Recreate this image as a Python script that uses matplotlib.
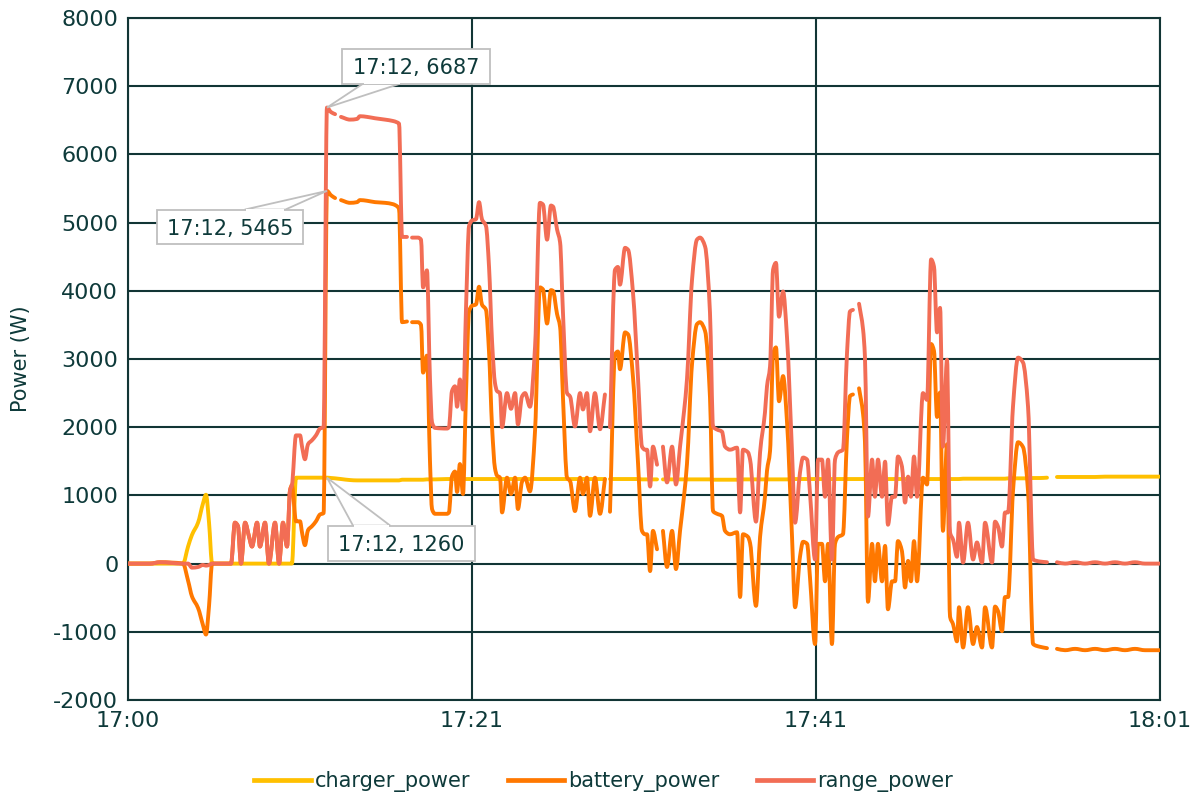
import numpy as np
import matplotlib
matplotlib.use("Agg")
import matplotlib.pyplot as plt
from matplotlib.path import Path
from matplotlib.patches import PathPatch, Polygon, Rectangle
from matplotlib.lines import Line2D

nan = float("nan")

# minutes after the axis start (17:00)
minutes = [
    0.00, 1.30, 1.89, 3.25, 3.55, 3.78, 4.14, 4.43, 4.61, 4.79, 4.97, 5.91, 6.09, 6.32, 6.50, 6.68,
    6.92, 7.15, 7.33, 7.63, 7.80, 8.10, 8.33, 8.69, 8.93, 9.16, 9.40, 9.58, 9.69, 9.93, 10.17, 10.29,
    10.46, 10.64, 10.88, 11.11, 11.35, 11.56, 11.76, 12.00, 12.24, 12.41, 12.59, 13.12, 13.54, 13.71,
    14.13, 14.60, 15.19, 15.66, 15.90, 16.02, 16.20, 16.49, 16.64, 16.79, 17.14, 17.32, 17.44, 17.67,
    17.85, 17.97, 18.15, 18.86, 18.97, 19.15, 19.33, 19.45, 19.62, 19.80, 19.98, 20.16, 20.33, 20.57,
    20.75, 20.92, 21.16, 21.34, 21.52, 21.69, 21.81, 21.99, 22.11, 22.40, 22.64, 22.88, 23.05, 23.29,
    23.47, 23.76, 24.06, 24.35, 24.53, 24.77, 25.00, 25.12, 25.36, 25.54, 25.71, 25.95, 26.13, 26.42,
    26.72, 26.89, 27.13, 27.31, 27.60, 27.90, 28.19, 28.34, 28.49, 28.79, 28.96, 29.08, 29.38, 29.56,
    29.85, 30.15, 30.38, 30.56, 30.68, 30.86, 31.03, 31.27, 31.45, 31.62, 31.86, 32.16, 32.39, 32.63,
    32.87, 33.04, 33.34, 33.63, 33.81, 34.11, 34.40, 34.58, 34.82, 35.11, 35.29, 35.58, 36.00, 36.18,
    36.35, 36.65, 36.77, 37.12, 37.36, 37.65, 37.77, 37.95, 38.13, 38.30, 38.48, 38.72, 38.95, 39.25,
    39.43, 39.72, 39.90, 40.14, 40.31, 40.61, 40.79, 41.02, 41.20, 41.38, 41.61, 41.79, 41.97, 42.26,
    42.50, 42.68, 42.85, 43.03, 43.21, 43.45, 43.56, 43.74, 43.98, 44.15, 44.33, 44.57, 44.75, 44.92,
    45.16, 45.34, 45.51, 45.75, 45.93, 46.11, 46.28, 46.46, 46.64, 46.99, 47.23, 47.47, 47.64, 47.82,
    48.00, 48.17, 48.41, 48.59, 48.77, 49.00, 49.12, 49.36, 49.65, 49.95, 50.18, 50.48, 50.66, 51.07,
    51.25, 51.43, 51.66, 51.84, 52.02, 52.31, 52.61, 52.90, 53.20, 53.50, 53.91, 54.32, 54.62, 54.91,
    55.39, 55.98, 56.57, 57.16, 57.75, 58.34, 58.93, 59.52, 60.11, 61.00,
]

charger_power = [
    0, 0, 0, 0, 250, 420, 600, 880, 1010, 600, 0, 0, 0, 0, 0, 0,
    0, 0, 0, 0, 0, 0, 0, 0, 0, 0, 0, 0, 0, 1260, 1260, 1260,
    1260, 1260, 1260, 1260, 1260, 1260, 1260, 1255, 1250, 1245, 1240, 1225, 1220, 1220,
    1220, 1220, 1220, 1220, 1220, 1220, 1230, 1230, 1230, 1230, 1230, 1230, 1230, 1235,
    1235, 1235, 1235, 1240, 1240, 1240, 1240, 1240, 1240, 1240, 1240, 1240, 1240, 1240,
    1240, 1240, 1240, 1240, 1240, 1240, 1240, 1240, 1240, 1240, 1240, 1240, 1240, 1240,
    1240, 1240, 1240, 1240, 1240, 1240, 1240, 1240, 1240, 1240, 1240, 1240, 1240, 1240,
    1240, 1240, 1240, 1240, 1240, 1240, 1240, nan, 1240, 1240, 1240, 1240, 1240, 1240,
    1240, 1240, 1235, 1235, 1235, 1235, 1235, 1235, nan, 1235, 1235, 1235, 1235, 1235,
    1235, 1235, 1235, 1235, 1235, 1235, 1235, 1230, 1230, 1230, 1230, 1230, 1230, 1230,
    1235, 1235, 1235, 1235, 1235, 1235, 1235, 1235, 1235, 1235, 1235, 1235, 1235, 1240,
    1240, 1240, 1240, 1240, 1240, 1240, 1240, 1240, 1240, 1240, 1240, 1240, 1240, 1240,
    1240, 1240, 1240, 1240, 1240, 1240, 1240, 1240, 1240, 1240, 1240, 1240, 1240, 1240,
    1240, 1240, 1240, 1240, 1240, 1240, 1240, 1240, 1240, 1240, 1240, 1240, 1240, 1240,
    1240, 1240, 1240, 1240, 1240, 1240, 1240, 1245, 1245, 1245, 1245, 1245, 1245, 1245,
    1245, 1245, 1245, 1245, 1250, 1250, 1250, 1250, 1250, 1255, 1255, 1260, nan, 1270,
    1270, 1270, 1270, 1270, 1275, 1275, 1275, 1275, 1275, 1275,
]

battery_power = [
    0, 0, 20, 0, -250, -480, -650, -900, -1040, -620, 0, 0, 0, 600, 550, 0,
    600, 400, 250, 600, 250, 600, 0, 600, 0, 600, 250, 1080, 1150, 620, 620, 450,
    270, 490, 550, 620, 720, 740, 5465, 5400, 5360, nan, 5330, 5290, 5300, 5330,
    5320, 5300, 5290, 5270, 5240, 5200, 3540, 3550, nan, 3540, 3540, 3500, 2800, 3050,
    1500, 800, 730, 730, 750, 1280, 1350, 1050, 1460, 1020, 2500, 3700, 3780, 3800,
    4060, 3800, 3720, 3100, 2000, 1400, 1290, 1260, 750, 1260, 1020, 1260, 800, 1200,
    1260, 1060, 1950, 4050, 4020, 3520, 4010, 4000, 3660, 3470, 2440, 1260, 1210, 770,
    1260, 1020, 1260, 700, 1260, 730, 1240, nan, 760, 3070, 3110, 2850, 3390, 3360,
    2730, 1460, 480, 430, 430, -110, 480, 210, nan, 480, -50, 480, -80, 480,
    1000, 1460, 2930, 3510, 3540, 3410, 2440, 770, 730, 700, 480, 430, 460, -490,
    430, 390, 300, -620, 390, 980, 1360, 1650, 3070, 3170, 2380, 2750, 2090, 390,
    -640, 100, 320, 290, -200, -1180, 290, 290, -260, 290, -1180, 290, 390, 430,
    1850, 2460, 2480, nan, 2570, 2190, 1790, -560, 290, -260, 290, -260, 260, -670,
    -260, -260, 330, 180, -350, 40, -260, 330, -260, 1260, 1160, 3220, 3120, 2150,
    2510, 480, 1750, -780, -890, -1140, -640, -1230, -640, -1180, -930, -1230, -640, -1230,
    -630, -700, -990, -490, -490, 1060, 1780, 1710, 1060, -1180, -1220, -1240, nan, -1250,
    -1270, -1250, -1270, -1250, -1270, -1250, -1270, -1250, -1270, -1270,
]

range_power = [
    0, 0, 20, 0, 0, -60, -50, -20, -30, -20, 0, 0, 0, 600, 550, 0,
    600, 400, 250, 600, 250, 600, 0, 600, 0, 600, 250, 1080, 1150, 1880, 1880, 1710,
    1530, 1750, 1810, 1880, 1980, 2000, 6687, 6620, 6590, nan, 6550, 6510, 6520, 6560,
    6550, 6530, 6510, 6490, 6470, 6450, 4790, 4790, nan, 4780, 4780, 4750, 4050, 4300,
    2700, 2070, 1990, 1980, 2000, 2530, 2600, 2300, 2700, 2260, 3750, 4950, 5030, 5050,
    5300, 5050, 4950, 4350, 3250, 2650, 2530, 2500, 2000, 2500, 2270, 2500, 2040, 2450,
    2500, 2300, 3180, 5290, 5265, 4750, 5250, 5235, 4900, 4710, 3680, 2500, 2450, 2010,
    2500, 2260, 2500, 1940, 2500, 1970, 2480, nan, 2000, 4310, 4350, 4090, 4630, 4600,
    3970, 2700, 1715, 1670, 1670, 1130, 1715, 1450, nan, 1715, 1190, 1715, 1160, 1715,
    2240, 2700, 4165, 4750, 4780, 4650, 3680, 2010, 1965, 1935, 1715, 1670, 1700, 750,
    1670, 1630, 1525, 615, 1630, 2215, 2600, 2890, 4310, 4410, 3620, 3990, 3330, 1630,
    600, 1335, 1555, 1525, 1040, 60, 1525, 1525, 980, 1525, 60, 1525, 1630, 1670,
    3090, 3700, 3720, nan, 3810, 3430, 3030, 690, 1525, 980, 1525, 980, 1495, 570,
    980, 980, 1570, 1420, 895, 1275, 980, 1570, 980, 2500, 2400, 4460, 4355, 3390,
    3750, 1715, 2990, 455, 350, 100, 600, 15, 600, 60, 310, 15, 600, 15,
    615, 540, 250, 750, 750, 2300, 3020, 2950, 2300, 60, 30, 20, nan, 20,
    0, 20, 0, 20, 0, 20, 0, 20, 0, 0,
]

x_tick_pos = [0, 61 / 3, 122 / 3, 61]
x_tick_labels = ["17:00", "17:21", "17:41", "18:01"]
y_ticks = list(range(-2000, 8001, 1000))

# data labels: (text, time of the point, value of the point)
callout_time = 11.76
callout_labels = ["17:12, 6687", "17:12, 5465", "17:12, 1260"]
callout_values = [6687, 5465, 1260]
# callout box placement (x0, x1, y0, y1) and pointer base on the box edge (xa, xb, y)
callout_boxes = [(12.65, 21.40, 7038, 7551), (1.71, 10.34, 4692, 5191), (11.82, 20.51, 44, 557)]
callout_bases = [(13.9, 16.1, 7038), (6.9, 9.3, 5191), (13.3, 15.5, 557)]

series = [
    ("charger_power", charger_power, "#FFC000"),
    ("battery_power", battery_power, "#FF7800"),
    ("range_power", range_power, "#F26D55"),
]

TXT = "#0E3A3A"
GRID = "#123535"
EDGE = "#BFBFBF"

plt.rcParams["font.family"] = ["DejaVu Sans"]
plt.rcParams["axes.unicode_minus"] = False


def smooth_path(xs, ys):
    """Piecewise monotone cubic through the data, split at gaps."""
    verts, codes = [], []
    seg = []
    segs = []
    for xv, yv in zip(xs, ys):
        if np.isnan(yv):
            if seg:
                segs.append(seg)
            seg = []
        else:
            seg.append((xv, yv))
    if seg:
        segs.append(seg)
    for s in segs:
        p = np.array(s, dtype=float)
        n = len(p)
        verts.append(tuple(p[0]))
        codes.append(Path.MOVETO)
        if n == 1:
            continue
        dx = np.diff(p[:, 0])
        dy = np.diff(p[:, 1])
        sec = dy / dx
        m = np.zeros(n)
        m[0] = sec[0]
        m[-1] = sec[-1]
        for i in range(1, n - 1):
            if sec[i - 1] * sec[i] <= 0:
                m[i] = 0.0
            else:
                w1 = 2 * dx[i] + dx[i - 1]
                w2 = dx[i] + 2 * dx[i - 1]
                m[i] = (w1 + w2) / (w1 / sec[i - 1] + w2 / sec[i])
        for i in range(n - 1):
            h = dx[i]
            c1 = (p[i, 0] + h / 3, p[i, 1] + m[i] * h / 3)
            c2 = (p[i + 1, 0] - h / 3, p[i + 1, 1] - m[i + 1] * h / 3)
            verts += [c1, c2, tuple(p[i + 1])]
            codes += [Path.CURVE4] * 3
    return Path(verts, codes)


fig = plt.figure(figsize=(11.98, 7.96), dpi=100)
ax = fig.add_axes([128 / 1198, 1 - 700 / 796, (1160 - 128) / 1198, (700 - 18) / 796])

handles = []
for z, (name, vals, col) in enumerate(series):
    path = smooth_path(minutes, vals)
    patch = PathPatch(path, fill=False, edgecolor=col, lw=2.8, capstyle="round",
                      joinstyle="round", zorder=3 + z)
    ax.add_patch(patch)
    handles.append(Line2D([], [], color=col, lw=3.4, label=name))

ax.set_xlim(0, 61)
ax.set_ylim(-2000, 8000)
ax.set_xticks(x_tick_pos)
ax.set_xticklabels(x_tick_labels)
ax.set_yticks(y_ticks)
ax.set_yticklabels([str(v) for v in y_ticks])
ax.grid(True, color=GRID, lw=1.5)
ax.set_axisbelow(True)
for sp in ax.spines.values():
    sp.set_color(GRID)
    sp.set_linewidth(1.5)
ax.tick_params(axis="y", length=0, labelsize=16, colors=TXT, pad=7)
ax.tick_params(axis="x", length=0, labelsize=16, colors=TXT, pad=8)
ax.set_ylabel("Power (W)", fontsize=15, color=TXT, labelpad=16)

for text, val, (x0, x1, y0, y1), (xa, xb, yb) in zip(callout_labels, callout_values,
                                                      callout_boxes, callout_bases):
    tip = (callout_time, val)
    ax.add_patch(Polygon([tip, (xa, yb), (xb, yb)], closed=True, fc="white", ec=EDGE,
                         lw=1.3, zorder=9, clip_on=False))
    ax.add_patch(Rectangle((x0, y0), x1 - x0, y1 - y0, fc="white", ec=EDGE, lw=1.3,
                           zorder=10, clip_on=False))
    # open the box edge where the pointer joins
    dy = (y1 - y0) * 0.06 * (1 if yb == y0 else -1)
    ax.add_patch(Polygon([(xa + 0.05, yb - dy * 0.3), (xb - 0.05, yb - dy * 0.3),
                          (xb - 0.05, yb + dy), (xa + 0.05, yb + dy)], closed=True,
                         fc="white", ec="none", zorder=11, clip_on=False))
    ax.text((x0 + x1) / 2, (y0 + y1) / 2, text, ha="center", va="center_baseline",
            fontsize=15, color=TXT, zorder=12)

fig.legend(handles=handles, loc="center", bbox_to_anchor=(0.504, 0.018), ncol=3,
           frameon=False, fontsize=15, handlelength=2.7, handletextpad=0.2,
           columnspacing=1.8, labelcolor=TXT)

fig.savefig("out.png", dpi=100, facecolor="white")
